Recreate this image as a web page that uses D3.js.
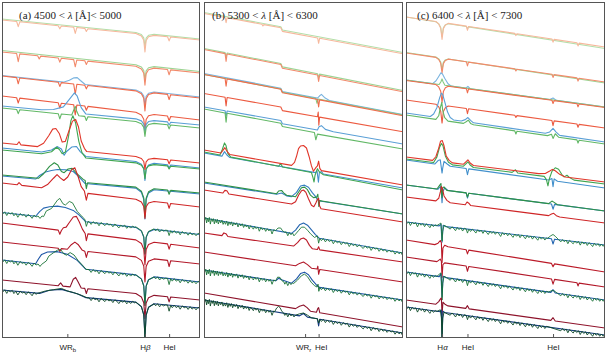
<!DOCTYPE html>
<html><head><meta charset="utf-8">
<script src="https://cdn.jsdelivr.net/npm/d3@7"></script>
<style>body{margin:0;background:#fff}svg{display:block}text{white-space:pre}</style>
</head><body>
<svg id="c" width="607" height="355"></svg>
<script>
// ---------------- DATA ----------------
const domA = [4500, 5000], domB = [5300, 6300], domC = [6400, 7300];
const ticksA = [4665, 4861, 4922], ticksB = [5808, 5876], ticksC = [6563, 6678, 7065];
const tickLabelsA = [[["WR",0],["b",2]], [["H",0],["β",1]], [["HeI",0]]];
const tickLabelsB = [[["WR",0],["r",2]], [["HeI",0]]];
const tickLabelsC = [[["H",0],["α",1]], [["HeI",0]], [["HeI",0]]];
const titleA = [["(a) 4500 < ",0],["λ",1],[" [Å]< 5000",0]];
const titleB = [["(b) 5300 < ",0],["λ",1],[" [Å] < 6300",0]];
const titleC = [["(c) 6400 < ",0],["λ",1],[" [Å] < 7300",0]];

// spectrum: [row, kind, continuum flux at left edge, at right edge, [[lambda, deviation],...], noisy]
const specA = [
[1,'g',32.1,30.1,[[4838,0],[4852,-0.15],[4858,-0.45],[4861,-1.3],[4864,-0.45],[4870,-0.15],[4884,0]],0],
[1,'r',32.0,30.0,[[4537,0],[4541,-0.5],[4545,0],[4642,0],[4646,-0.3],[4650,0],[4681,0],[4685,-0.6],[4689,0],[4709,0],[4713,-0.3],[4717,0],[4838,0],[4852,-0.2],[4858,-0.6],[4861,-1.75],[4864,-0.6],[4870,-0.2],[4884,0],[4918,0],[4922,-0.4],[4926,0]],0],
[2,'g',28.95,26.85,[[4838,0],[4852,-0.17],[4858,-0.5],[4861,-1.4],[4864,-0.5],[4870,-0.17],[4884,0]],0],
[2,'r',28.8,26.7,[[4537,0],[4541,-0.8],[4545,0],[4590,0],[4594,-0.3],[4598,0],[4642,0],[4646,-0.4],[4650,0],[4681,0],[4685,-0.7],[4689,0],[4709,0],[4713,-0.35],[4717,0],[4838,0],[4852,-0.22],[4858,-0.63],[4861,-1.8],[4864,-0.63],[4870,-0.22],[4884,0],[4918,0],[4922,-0.5],[4926,0]],0],
[3,'b',26.45,24.3,[[4655,0],[4670,0.25],[4682,0.55],[4690,0.6],[4698,0.35],[4710,0],[4838,0],[4852,-0.18],[4858,-0.52],[4861,-1.5],[4864,-0.52],[4870,-0.18],[4884,0]],0],
[3,'r',26.4,24.2,[[4537,0],[4541,-0.6],[4545,0],[4642,0],[4646,-0.4],[4650,0],[4681,0],[4685,-1.0],[4689,0],[4709,0],[4713,-0.35],[4717,0],[4838,0],[4852,-0.23],[4858,-0.66],[4861,-1.9],[4864,-0.66],[4870,-0.23],[4884,0],[4918,0],[4922,-0.5],[4926,0]],0],
[4,'r',24.4,22.0,[[4537,0],[4541,-0.5],[4545,0],[4642,0],[4646,-0.5],[4650,0],[4681,0],[4685,-1.0],[4689,0],[4709,0],[4713,-0.4],[4717,0],[4838,0],[4852,-0.2],[4858,-0.6],[4861,-1.7],[4864,-0.6],[4870,-0.2],[4884,0],[4918,0],[4922,-0.45],[4926,0]],0],
[5,'g',23.2,21.2,[[4537,0],[4541,-0.4],[4545,0],[4642,0],[4646,-0.5],[4650,0],[4676,0],[4681,0.5],[4685,0.9],[4689,0.4],[4694,0],[4709,0],[4713,-0.4],[4717,0],[4838,0],[4852,-0.17],[4858,-0.5],[4861,-1.4],[4864,-0.5],[4870,-0.17],[4884,0],[4918,0],[4922,-0.4],[4926,0]],0],
[5,'b',23.4,21.5,[[4600,0],[4630,0.15],[4655,0.5],[4670,1.3],[4683,2.0],[4690,1.7],[4700,0.6],[4712,0],[4838,0],[4852,-0.15],[4858,-0.45],[4861,-1.3],[4864,-0.45],[4870,-0.15],[4884,0],[4918,0],[4922,-0.3],[4926,0]],0],
[6,'g',19.0,17.1,[[4600,0],[4625,0.3],[4638,0.8],[4645,0.6],[4652,0.2],[4660,0.4],[4668,2.0],[4674,3.6],[4679,4.1],[4686,3.4],[4694,1.6],[4702,0.5],[4712,0],[4838,0],[4852,-0.18],[4858,-0.52],[4861,-1.5],[4864,-0.52],[4870,-0.18],[4884,0],[4918,0],[4922,-0.3],[4926,0]],0],
[6,'b',19.2,17.2,[[4600,0],[4625,0.3],[4640,0.7],[4650,0.5],[4657,-0.1],[4663,0.3],[4676,0.8],[4688,0.9],[4698,0.4],[4712,0],[4838,0],[4852,-0.22],[4858,-0.63],[4861,-1.8],[4864,-0.63],[4870,-0.22],[4884,0],[4918,0],[4922,-0.3],[4926,0]],0],
[6,'r',19.7,17.7,[[4538,0],[4543,0.3],[4548,0],[4590,0],[4605,0.4],[4618,1.2],[4628,1.9],[4636,2.0],[4645,1.5],[4652,0.7],[4660,0.8],[4670,2.0],[4678,2.9],[4686,3.1],[4693,2.4],[4700,1.0],[4708,0.3],[4714,0],[4838,0],[4852,-0.14],[4858,-0.42],[4861,-1.2],[4864,-0.42],[4870,-0.14],[4884,0],[4918,0],[4922,-0.4],[4926,0]],0],
[7,'g',16.5,14.7,[[4592,0],[4605,0.5],[4620,1.3],[4632,1.7],[4641,1.5],[4650,0.9],[4657,0.8],[4667,1.2],[4677,1.3],[4690,0.8],[4705,0.3],[4710,0.2],[4713,-0.6],[4716,0],[4838,0],[4852,-0.35],[4858,-1.0],[4861,-2.9],[4864,-1.0],[4870,-0.35],[4884,0],[4918,0],[4922,-0.4],[4926,0]],0],
[7,'b',16.4,14.6,[[4585,0],[4595,0.4],[4610,0.8],[4625,1.0],[4640,1.15],[4660,1.2],[4680,1.1],[4695,0.6],[4710,0],[4838,0],[4852,-0.36],[4858,-1.05],[4861,-3.0],[4864,-1.05],[4870,-0.36],[4884,0]],0],
[8,'r',15.7,13.3,[[4538,0],[4543,0.25],[4550,0],[4600,0],[4615,0.4],[4630,1.1],[4639,1.5],[4648,1.2],[4656,1.0],[4666,1.4],[4676,2.2],[4684,2.4],[4692,1.6],[4700,0.6],[4708,0.2],[4713,-0.7],[4717,0],[4838,0],[4852,-0.22],[4858,-0.63],[4861,-1.8],[4864,-0.63],[4870,-0.22],[4884,0],[4918,0],[4922,-0.5],[4926,0]],0],
[9,'b',12.75,10.55,[[4585,0],[4595,0.5],[4605,0.9],[4620,1.1],[4640,1.25],[4660,1.2],[4680,1.0],[4695,0.6],[4712,0],[4838,0],[4852,-0.31],[4858,-0.9],[4861,-2.6],[4864,-0.9],[4870,-0.31],[4884,0]],0],
[9,'g',12.8,10.6,[[4605,0],[4612,0.6],[4625,0.9],[4640,1.8],[4646,2.0],[4654,1.5],[4660,1.4],[4670,1.8],[4678,1.7],[4690,0.9],[4703,0.4],[4709,0.2],[4713,-0.5],[4717,0],[4838,0],[4852,-0.31],[4858,-0.9],[4861,-2.6],[4864,-0.9],[4870,-0.31],[4884,0],[4918,0],[4922,-0.5],[4926,0]],1],
[10,'r',11.7,9.2,[[4642,0],[4646,-0.4],[4650,0],[4655,0.3],[4662,0.4],[4670,0.9],[4680,1.5],[4688,1.6],[4695,1.1],[4703,0.4],[4710,0],[4713,-0.7],[4717,0],[4838,0],[4852,-0.29],[4858,-0.84],[4861,-2.4],[4864,-0.84],[4870,-0.29],[4884,0],[4918,0],[4922,-0.5],[4926,0]],0],
[11,'r',9.8,7.6,[[4642,0],[4646,-0.3],[4650,0],[4665,0],[4675,0.5],[4684,0.8],[4692,0.6],[4702,0.1],[4709,0],[4713,-0.6],[4717,0],[4838,0],[4852,-0.29],[4858,-0.84],[4861,-2.4],[4864,-0.84],[4870,-0.29],[4884,0],[4918,0],[4922,-0.6],[4926,0]],0],
[12,'b',8.0,5.8,[[4585,0],[4592,0.5],[4600,1.0],[4615,1.3],[4640,1.45],[4665,1.3],[4690,0.8],[4712,0],[4838,0],[4852,-0.34],[4858,-0.98],[4861,-2.8],[4864,-0.98],[4870,-0.34],[4884,0]],0],
[12,'g',8.0,5.8,[[4600,0],[4612,0.4],[4618,0.9],[4630,1.3],[4640,1.6],[4648,1.7],[4656,1.3],[4663,1.2],[4672,1.5],[4682,1.3],[4692,0.8],[4705,0.3],[4712,0],[4838,0],[4852,-0.36],[4858,-1.05],[4861,-3.0],[4864,-1.05],[4870,-0.36],[4884,0],[4918,0],[4922,-0.6],[4926,0]],1],
[13,'r',6.0,4.0,[[4642,0],[4648,0.3],[4654,0],[4672,0],[4680,0.8],[4686,1.0],[4692,0.6],[4700,0],[4709,0],[4713,-0.5],[4717,0],[4838,0],[4852,-0.29],[4858,-0.84],[4861,-2.4],[4864,-0.84],[4870,-0.29],[4884,0],[4918,0],[4922,-0.5],[4926,0]],0],
[14,'b',5.0,3.2,[[4595,0],[4620,0.4],[4650,0.6],[4690,0.3],[4712,0],[4838,0],[4852,-0.4],[4858,-1.2],[4861,-3.4],[4864,-1.2],[4870,-0.4],[4884,0]],0],
[14,'g',5.0,3.2,[[4590,0],[4610,0.3],[4630,0.5],[4650,0.7],[4665,0.5],[4680,0.4],[4700,0.2],[4715,0],[4838,0],[4852,-0.4],[4858,-1.2],[4861,-3.4],[4864,-1.2],[4870,-0.4],[4884,0],[4918,0],[4922,-0.6],[4926,0]],1]
];

const specB = [
[1,'g',32.6,28.9,[[5300,0.15],[5686,0.15],[5694,-0.15],[6300,-0.15]],0],
[1,'r',32.5,28.8,[[5300,0.15],[5406,0.15],[5411,-0.35],[5416,0.15],[5591,0.15],[5596,0],[5601,0.15],[5686,0.15],[5694,-0.18],[5871,-0.18],[5876,-0.7],[5881,-0.18],[6300,-0.18]],0],
[2,'g',29.0,25.1,[[5300,0.15],[5406,0.15],[5411,-0.3],[5416,0.15],[5686,0.15],[5694,-0.15],[5871,-0.15],[5876,-0.5],[5881,-0.15],[6300,-0.15]],0],
[2,'r',28.9,25.0,[[5300,0.15],[5406,0.15],[5411,-0.6],[5416,0.15],[5686,0.15],[5694,-0.18],[5871,-0.18],[5876,-0.8],[5881,-0.18],[6300,-0.18]],0],
[3,'b',26.5,22.7,[[5300,0.15],[5686,0.15],[5694,-0.15],[5870,-0.15],[5880,0.1],[5890,0.3],[5905,0.05],[5930,-0.15],[6300,-0.15]],0],
[3,'g',26.4,22.65,[[5300,0.15],[5686,0.15],[5694,-0.15],[5862,-0.15],[5868,-0.6],[5874,-0.15],[6300,-0.15]],0],
[3,'r',26.4,22.6,[[5300,0.15],[5406,0.15],[5411,-0.6],[5416,0.15],[5686,0.15],[5694,-0.18],[5871,-0.18],[5876,-0.9],[5881,-0.18],[6300,-0.18]],0],
[4,'r',24.5,21.0,[[5300,0.15],[5406,0.15],[5411,-0.7],[5416,0.15],[5686,0.15],[5694,-0.18],[5870,-0.18],[5874,0.3],[5877,-1.0],[5881,-0.18],[6300,-0.18]],0],
[5,'b',23.2,19.7,[[5300,0.1],[5406,0.1],[5411,-0.4],[5416,0.1],[5686,0.1],[5694,-0.2],[5870,-0.2],[5878,0.15],[5890,0.3],[5910,0],[5950,-0.1],[6300,-0.1]],0],
[5,'g',23.0,19.3,[[5300,0.1],[5406,0.1],[5411,-0.8],[5416,0.1],[5686,0.1],[5694,-0.2],[5855,-0.2],[5862,-0.9],[5870,-0.3],[6300,-0.2]],0],
[6,'b',18.7,15.2,[[5390,0],[5403,0.5],[5415,0.2],[5430,0],[5860,0],[5868,0.2],[5875,-0.9],[5880,0.1],[5890,0.2],[5900,0]],0],
[6,'g',18.8,15.0,[[5380,0],[5392,0.6],[5403,1.3],[5410,1.1],[5420,0.3],[5435,0],[5675,0],[5685,0.3],[5695,0],[5840,0],[5848,-0.5],[5853,-0.9],[5858,-0.2],[5870,0.5],[5880,0.2],[5890,0.1],[5900,0]],0],
[6,'r',19.0,15.5,[[5385,0],[5395,0.3],[5405,0.6],[5415,0.3],[5430,0],[5740,0],[5755,0.35],[5765,1.0],[5775,1.8],[5785,2.1],[5800,2.2],[5815,2.0],[5828,1.2],[5840,0.3],[5850,-0.2],[5862,0.2],[5870,0.4],[5876,0.9],[5882,0.2],[5890,0]],0],
[7,'b',15.7,12.6,[[5665,0],[5690,0.2],[5715,0],[5740,0],[5765,0.5],[5785,1.2],[5805,1.35],[5825,1.2],[5845,0.7],[5860,0.4],[5870,0.1],[5890,0]],0],
[7,'g',15.8,12.6,[[5665,0],[5675,0.3],[5690,0.4],[5700,0.2],[5715,0],[5760,0],[5775,0.5],[5790,1.0],[5805,1.1],[5820,0.9],[5835,0.4],[5850,0.2],[5866,0.3],[5872,0.6],[5877,-0.6],[5882,0],[5900,0]],0],
[8,'r',15.0,11.8,[[5395,0],[5405,0.3],[5415,0.3],[5425,0],[5740,0],[5760,0.3],[5775,1.0],[5790,1.5],[5800,1.6],[5812,1.4],[5825,0.8],[5840,0.2],[5852,0.1],[5862,0.5],[5870,0.9],[5876,1.0],[5880,0.3],[5888,0]],0],
[9,'b',12.2,8.7,[[5740,0],[5760,0.4],[5780,1.0],[5800,1.25],[5820,1.1],[5840,0.7],[5860,0.3],[5880,0]],0],
[9,'g',12.2,8.7,[[5660,0],[5672,0.3],[5685,0.35],[5695,0.1],[5705,0],[5760,0],[5775,0.4],[5790,0.8],[5805,0.85],[5820,0.6],[5835,0.3],[5855,0],[5870,0.2],[5876,-0.5],[5882,0]],1],
[10,'r',10.7,7.8,[[5390,0],[5400,0.3],[5410,0.25],[5420,0],[5750,0],[5770,0.4],[5785,0.8],[5800,0.95],[5815,0.8],[5830,0.3],[5845,0],[5870,0],[5876,0.3],[5882,0]],0],
[11,'r',8.8,5.8,[[5760,0],[5780,0.3],[5800,0.5],[5820,0.3],[5840,0],[5868,0],[5872,0.3],[5876,-0.5],[5882,0]],0],
[12,'b',7.0,4.0,[[5660,0],[5675,0.3],[5690,0.2],[5740,0],[5765,0.5],[5785,1.1],[5805,1.3],[5825,1.1],[5845,0.6],[5865,0.2],[5880,0]],0],
[12,'g',7.0,4.0,[[5660,0],[5670,0.4],[5682,0.4],[5692,0.1],[5702,0],[5750,0],[5770,0.4],[5790,0.9],[5805,1.1],[5820,0.9],[5838,0.4],[5855,0.1],[5868,0],[5873,0.3],[5877,-0.4],[5882,0]],1],
[13,'r',4.7,1.3,[[5760,0],[5780,0.3],[5800,0.5],[5818,0.3],[5835,0],[5865,0],[5872,0.4],[5876,0.5],[5882,0]],0],
[14,'b',4.0,0.7,[[5780,0],[5800,0.3],[5820,0],[5870,0],[5876,-0.7],[5882,0]],0],
[14,'g',4.0,0.7,[[5655,0],[5665,0.4],[5675,0.6],[5682,0.5],[5690,0.2],[5700,0],[5760,0],[5780,0.2],[5800,0.35],[5820,0.2],[5840,0],[5870,0],[5876,-0.4],[5882,0]],1]
];

const specC = [
[1,'g',32.3,29.15,[[6535,0],[6548,-0.17],[6557,-0.5],[6563,-1.4],[6569,-0.5],[6578,-0.17],[6591,0],[6673,0],[6678,-0.2],[6683,0]],0],
[1,'r',32.3,29.3,[[6535,0],[6548,-0.2],[6557,-0.6],[6563,-1.7],[6569,-0.6],[6578,-0.2],[6591,0],[6673,0],[6678,-0.4],[6683,0],[6892,0],[6897,-0.2],[6902,0],[7060,0],[7065,-0.3],[7070,0],[7173,0],[7178,-0.3],[7183,0]],0],
[2,'g',28.75,25.7,[[6535,0],[6548,-0.14],[6557,-0.42],[6563,-1.2],[6569,-0.42],[6578,-0.14],[6591,0]],0],
[2,'r',28.7,25.8,[[6535,0],[6548,-0.18],[6557,-0.52],[6563,-1.5],[6569,-0.52],[6578,-0.18],[6591,0],[6673,0],[6678,-0.4],[6683,0],[6892,0],[6897,-0.2],[6902,0],[7060,0],[7065,-0.3],[7070,0],[7173,0],[7178,-0.3],[7183,0]],0],
[3,'b',26.0,23.3,[[6520,0],[6535,0.3],[6548,0.8],[6558,1.2],[6565,1.1],[6575,0.7],[6590,0.2],[6605,0],[6670,0],[6680,0.2],[6690,0],[7050,0],[7065,0.2],[7080,0]],0],
[3,'g',26.0,23.3,[[6550,0],[6558,0.3],[6563,0.6],[6568,0.3],[6576,0]],0],
[3,'r',25.95,23.25,[[6535,0],[6548,-0.2],[6557,-0.6],[6563,-1.7],[6569,-0.6],[6578,-0.2],[6591,0],[6673,0],[6678,-0.4],[6683,0],[7060,0],[7065,-0.3],[7070,0],[7173,0],[7178,-0.3],[7183,0]],0],
[4,'r',24.0,21.2,[[6535,0],[6548,-0.22],[6557,-0.63],[6563,-1.8],[6569,-0.63],[6578,-0.22],[6591,0],[6673,0],[6678,-0.5],[6683,0],[6892,0],[6897,-0.2],[6902,0],[7060,0],[7065,-0.5],[7070,0],[7173,0],[7178,-0.3],[7183,0]],0],
[5,'b',22.7,19.8,[[6510,0],[6525,0.3],[6540,1.0],[6552,2.0],[6560,2.5],[6566,2.4],[6575,1.7],[6588,0.7],[6600,0.2],[6615,0],[6650,0],[6668,0.2],[6680,0.45],[6692,0.2],[6705,0],[7030,0],[7050,0.2],[7065,0.6],[7078,0.3],[7095,0]],0],
[5,'g',22.5,19.6,[[6535,0],[6548,0.4],[6556,1.3],[6562,1.8],[6566,1.0],[6575,0.3],[6590,0],[6660,0],[6672,0.2],[6682,0.4],[6692,0.1],[6705,0],[6892,0],[6897,-0.3],[6902,0],[7040,0],[7058,0.2],[7065,-0.2],[7075,0.3],[7090,0],[7173,0],[7178,-0.3],[7183,0]],0],
[6,'b',18.0,15.2,[[6530,0],[6545,0.4],[6555,0.5],[6560,-0.3],[6563,-0.8],[6566,-0.3],[6572,0.4],[6585,0.2],[6600,0],[6672,0],[6678,-0.6],[6684,0],[7045,0],[7060,0.2],[7065,-0.6],[7070,0.2],[7085,0]],0],
[6,'g',18.1,15.6,[[6525,0],[6540,0.6],[6552,1.6],[6560,2.0],[6567,1.8],[6578,0.8],[6592,0.2],[6610,0],[6660,0],[6672,0.3],[6680,0.5],[6690,0.2],[6705,0],[6880,0],[6895,0.3],[6905,0],[7025,0],[7035,-0.3],[7042,-0.9],[7048,-0.2],[7060,0.6],[7075,1.0],[7090,0.9],[7105,0.4],[7115,0.2],[7128,0.4],[7140,0.2],[7160,0]],0],
[6,'r',18.3,15.8,[[6520,0],[6535,0.4],[6548,1.3],[6556,2.0],[6564,2.1],[6572,1.6],[6582,0.6],[6595,0.2],[6610,0],[6660,0],[6672,0.3],[6680,0.5],[6690,0.2],[6705,0],[7000,0],[7030,0.1],[7050,0.4],[7062,0.6],[7075,0.5],[7095,0.2],[7120,0]],0],
[7,'b',15.5,12.9,[[6545,0],[6555,0.3],[6560,-0.2],[6563,-1.3],[6566,-0.2],[6575,0.2],[6590,0],[6672,0],[6678,-0.5],[6684,0],[7058,0],[7065,-0.5],[7072,0]],0],
[7,'g',15.5,12.9,[[6540,0],[6552,0.4],[6558,0.6],[6561,-0.3],[6563,-0.8],[6566,0.2],[6572,0.3],[6585,0],[6672,0],[6678,-0.4],[6684,0],[7045,0],[7060,0.3],[7070,0.2],[7085,0]],0],
[8,'r',14.3,11.7,[[6535,0],[6548,0.3],[6555,0.9],[6560,1.5],[6565,1.3],[6572,0.6],[6585,0.2],[6600,0],[6668,0],[6676,0.3],[6684,0.2],[6692,0],[7045,0],[7058,0.2],[7068,0.3],[7080,0.1],[7095,0]],0],
[9,'b',11.8,9.5,[[6550,0],[6558,0.2],[6563,-1.6],[6568,0.1],[6580,0],[7058,0],[7065,-0.5],[7072,0]],0],
[9,'g',11.8,9.5,[[6540,0],[6552,0.2],[6558,0.3],[6561,-0.5],[6563,-1.5],[6566,-0.5],[6572,0.1],[6585,0],[6672,0],[6678,-0.4],[6684,0],[7040,0],[7055,0.3],[7065,0.45],[7075,0.3],[7090,0]],1],
[10,'r',10.0,6.8,[[6530,0],[6545,0.2],[6555,0.5],[6560,0.3],[6563,-1.7],[6567,-0.2],[6575,0.1],[6590,0],[6672,0],[6678,-0.4],[6684,0],[7058,0],[7065,-0.3],[7072,0]],0],
[11,'r',8.3,5.3,[[6540,0],[6555,0.3],[6560,0.1],[6563,-1.5],[6567,-0.2],[6575,0],[6672,0],[6678,-0.5],[6684,0],[7058,0],[7065,-0.5],[7072,0],[7173,0],[7178,-0.3],[7183,0]],0],
[12,'b',6.8,4.0,[[6550,0],[6558,0.3],[6563,-2.0],[6568,0.1],[6580,0],[7055,0],[7065,0.3],[7075,0]],0],
[12,'g',6.8,4.0,[[6540,0],[6553,0.3],[6558,0.4],[6561,-0.6],[6563,-2.3],[6566,-0.6],[6572,0.1],[6585,0],[6672,0],[6678,-0.5],[6684,0],[7045,0],[7060,0.2],[7070,0.2],[7085,0]],1],
[13,'r',4.0,1.2,[[6535,0],[6548,0.3],[6556,0.6],[6560,0.7],[6563,-1.0],[6567,0.3],[6578,0.1],[6590,0],[6670,0],[6678,0.3],[6686,0],[7055,0],[7065,0.3],[7075,0]],0],
[14,'b',3.3,0.5,[[6555,0],[6560,0.2],[6563,-2.7],[6567,0.1],[6575,0]],0],
[14,'g',3.3,0.5,[[6540,0],[6555,0.2],[6560,-0.6],[6563,-2.6],[6566,-0.6],[6572,0],[6672,0],[6678,-0.4],[6684,0]],1]
];

// noise read as jagged deviations of the noisy spectra
const noiseA = [[4503,-0.15],[4507,0.05],[4512,-0.3],[4516,0.0],[4521,-0.1],[4526,0.05],[4530,-0.25],[4535,0.0],[4540,-0.35],[4546,0.05],[4551,-0.12],[4556,0.0],[4561,-0.25],[4566,0.05],[4571,-0.08],[4576,-0.3],[4581,0.05],[4586,-0.12],[4591,0.0],[4596,-0.22],[4601,0.05],[4606,-0.18],[4720,0.0],[4725,-0.25],[4730,0.05],[4735,-0.12],[4740,0.0],[4745,-0.3],[4750,0.05],[4755,-0.08],[4760,-0.22],[4765,0.05],[4770,-0.12],[4775,0.0],[4780,-0.25],[4785,0.05],[4790,-0.08],[4795,-0.3],[4800,0.0],[4805,-0.12],[4810,0.05],[4815,-0.25],[4820,0.0],[4825,-0.18],[4830,0.05],[4835,-0.08],[4888,-0.18],[4893,0.05],[4898,-0.25],[4903,0.0],[4908,-0.12],[4913,0.0],[4930,-0.22],[4935,0.05],[4940,-0.18],[4945,0.0],[4950,-0.3],[4955,0.05],[4960,-0.12],[4965,0.0],[4970,-0.25],[4975,0.05],[4980,-0.18],[4985,0.0],[4990,-0.22],[4995,0.05]];
const noiseB = [[5304,-0.2],[5309,0.1],[5313,-0.45],[5318,0.05],[5322,-0.3],[5327,0.15],[5332,-0.5],[5337,0.05],[5342,-0.2],[5347,0.1],[5352,-0.4],[5357,0.05],[5362,-0.25],[5367,0.1],[5372,-0.35],[5378,0.05],[5384,-0.2],[5390,0.1],[5396,-0.3],[5402,0],[5408,-0.25],[5414,0.1],[5420,-0.35],[5426,0.05],[5432,-0.2],[5438,0.1],[5444,-0.3],[5450,0.05],[5457,-0.15],[5464,0.1],[5471,-0.3],[5478,0.05],[5485,-0.15],[5492,0.1],[5499,-0.25],[5506,0.05],[5513,-0.15],[5520,0.05],[5527,-0.3],[5534,0.05],[5541,-0.1],[5548,-0.25],[5555,0.05],[5562,-0.15],[5570,0.05],[5578,-0.35],[5586,0.05],[5594,-0.15],[5602,0.05],[5610,-0.25],[5618,0.05],[5626,-0.15],[5634,0.05],[5642,-0.4],[5650,0.05],[5706,-0.2],[5713,0.05],[5721,-0.3],[5729,0.05],[5737,-0.15],[5745,0.05],[5752,-0.2],[5890,-0.2],[5900,0.05],[5910,-0.25],[5920,0.05],[5930,-0.15],[5940,0.05],[5950,-0.3],[5960,0.05],[5970,-0.15],[5980,0.05],[5990,-0.25],[6000,0.05],[6010,-0.1],[6020,0.05],[6030,-0.3],[6040,0.05],[6050,-0.15],[6060,0.05],[6070,-0.2],[6080,0.05],[6090,-0.1],[6100,-0.25],[6110,0.05],[6120,-0.15],[6130,0.05],[6140,-0.3],[6150,0.05],[6160,-0.1],[6170,0.05],[6180,-0.25],[6190,0.05],[6200,-0.15],[6210,0.05],[6220,-0.2],[6230,0.05],[6240,-0.1],[6250,0.05],[6260,-0.25],[6270,0.05],[6280,-0.15],[6290,0.05],[6296,-0.2]];
const noiseC = [[6404,-0.15],[6412,0.05],[6420,-0.3],[6428,0.05],[6436,-0.1],[6444,0.05],[6452,-0.35],[6460,0.05],[6468,-0.15],[6476,0.05],[6484,-0.25],[6492,0.05],[6500,-0.1],[6508,-0.3],[6516,0.05],[6524,-0.15],[6532,0.05],[6600,-0.2],[6608,0.05],[6616,-0.1],[6624,-0.3],[6632,0.05],[6640,-0.15],[6648,0.05],[6656,-0.25],[6664,0.05],[6692,-0.2],[6700,0.05],[6708,-0.1],[6716,-0.3],[6724,0.05],[6732,-0.15],[6740,0.05],[6748,-0.25],[6756,0.05],[6764,-0.1],[6772,-0.3],[6780,0.05],[6788,-0.15],[6796,0.05],[6804,-0.2],[6812,0.05],[6820,-0.1],[6828,-0.35],[6836,0.05],[6844,-0.15],[6852,0.05],[6860,-0.2],[6868,0.05],[6876,-0.1],[6884,-0.3],[6892,0.05],[6900,-0.15],[6908,0.05],[6916,-0.25],[6924,0.05],[6932,-0.1],[6940,-0.3],[6948,0.05],[6956,-0.15],[6964,0.05],[6972,-0.25],[6980,0.05],[6988,-0.1],[6996,-0.3],[7004,0.05],[7012,-0.15],[7020,0.05],[7028,-0.2],[7036,0.05],[7100,-0.2],[7108,0.05],[7116,-0.15],[7124,0.05],[7132,-0.3],[7140,0.05],[7148,-0.1],[7156,-0.25],[7164,0.05],[7172,-0.15],[7180,0.05],[7188,-0.3],[7196,0.05],[7204,-0.15],[7212,0.05],[7220,-0.25],[7228,0.05],[7236,-0.1],[7244,-0.3],[7252,0.05],[7260,-0.15],[7268,0.05],[7276,-0.2],[7284,0.05],[7292,-0.15],[7298,0.05]];

// ---------------- STYLE ----------------
const rowColors = [
 {r:'#f6b89c', g:'#b3dfa9', b:'#a9cce9'},
 {r:'#f28a6b', g:'#9dd494', b:'#8fc0e4'},
 {r:'#f06c4d', g:'#85ca80', b:'#79b3df'},
 {r:'#ec5a40', g:'#70bf6e', b:'#66a8da'},
 {r:'#e84a35', g:'#62b866', b:'#5a9fd6'},
 {r:'#e1372a', g:'#3fa550', b:'#4290cc'},
 {r:'#d62c28', g:'#2e9146', b:'#347fc2'},
 {r:'#cf2526', g:'#25853f', b:'#2b72b9'},
 {r:'#c41d27', g:'#1f7b3a', b:'#2566b1'},
 {r:'#bb1a28', g:'#1b7236', b:'#1f5ca8'},
 {r:'#b21829', g:'#186a33', b:'#1c54a0'},
 {r:'#a3152a', g:'#167034', b:'#1d55a6'},
 {r:'#8e132b', g:'#10552c', b:'#16428a'},
 {r:'#7a0f28', g:'#0c4a27', b:'#13397c'}
];
const labelNudge = [[0, 0, 0], [-2, 2], [0, 0, 0]];

// ---------------- DRAW ----------------
const svg = d3.select('#c');
const yTop = 2, yBot = 338;
const y = d3.scaleLinear().domain([0.2, 33.8]).range([yBot, yTop]);

function build(s, dom, noise) {
  const [row, kind, L, R, dev, noisy] = s;
  let pts = dev.slice();
  if (pts[0][0] > dom[0]) pts.unshift([dom[0], 0]);
  if (pts[pts.length - 1][0] < dom[1]) pts.push([dom[1], 0]);
  if (noisy) {
    const extra = noise.filter(([l]) => {
      for (let i = 0; i < pts.length - 1; i++) {
        if (pts[i][0] <= l - 2 && pts[i + 1][0] >= l + 2) return pts[i][1] === 0 && pts[i + 1][1] === 0;
      }
      return false;
    });
    pts = pts.concat(extra).sort((a, b) => a[0] - b[0]);
  }
  const cont = l => L + (R - L) * (l - dom[0]) / (dom[1] - dom[0]);
  return pts.map(([l, d]) => [l, cont(l) + d]);
}

function addParts(sel, parts, subSize) {
  parts.forEach(([t, st]) => {
    const ts = sel.append('tspan').text(t);
    if (st === 1) ts.attr('font-style', 'italic');
    if (st === 2) ts.attr('dy', 2.5).attr('font-size', subSize);
  });
}

const panels = [
  {dom: domA, px: [2, 200], spec: specA, noise: noiseA, ticks: ticksA, labels: tickLabelsA, title: titleA, tx: 19},
  {dom: domB, px: [204, 403], spec: specB, noise: noiseB, ticks: ticksB, labels: tickLabelsB, title: titleB, tx: 212},
  {dom: domC, px: [406, 605], spec: specC, noise: noiseC, ticks: ticksC, labels: tickLabelsC, title: titleC, tx: 417}
];
const order = {b: 0, g: 1, r: 2};

panels.forEach((p, i) => {
  const x = d3.scaleLinear().domain(p.dom).range(p.px);
  const cid = 'clip' + i;
  svg.append('clipPath').attr('id', cid).append('rect')
    .attr('x', p.px[0]).attr('y', yTop).attr('width', p.px[1] - p.px[0]).attr('height', yBot - yTop);
  const g = svg.append('g');
  const lines = g.append('g').attr('clip-path', `url(#${cid})`);
  const line = d3.line().x(d => x(d[0])).y(d => y(d[1]));
  const specs = p.spec.slice().sort((a, b) => a[0] - b[0] || order[a[1]] - order[b[1]]);
  lines.selectAll('path').data(specs).join('path')
    .attr('d', s => line(build(s, p.dom, p.noise)))
    .attr('fill', 'none')
    .attr('stroke', s => rowColors[s[0] - 1][s[1]])
    .attr('stroke-width', s => s[5] ? 0.9 : 1.1)
    .attr('stroke-linejoin', 'round');

  // frame
  g.append('rect').attr('x', p.px[0] + 0.5).attr('y', yTop + 0.5)
    .attr('width', p.px[1] - p.px[0] - 1).attr('height', yBot - yTop - 1)
    .attr('fill', 'none').attr('stroke', '#555').attr('stroke-width', 1);

  // axis
  const ax = g.append('g').attr('transform', `translate(0,${yBot})`)
    .call(d3.axisBottom(x).tickValues(p.ticks).tickSizeInner(-4).tickSizeOuter(0).tickPadding(6).tickFormat(''));
  ax.select('.domain').remove();
  ax.selectAll('.tick line').attr('stroke', '#555');
  ax.selectAll('.tick text').each(function(d, k) {
    const t = d3.select(this).style('font-family', "'Liberation Sans', Arial, sans-serif")
      .attr('font-size', 8).attr('fill', '#222').attr('dx', labelNudge[i][k]);
    addParts(t, p.labels[k], 6);
  });

  // title
  const tt = g.append('text').attr('x', p.tx).attr('y', 19)
    .style('font-family', "'Liberation Serif', 'Times New Roman', serif").attr('font-size', 11).attr('fill', '#222');
  addParts(tt, p.title, 8);
});
</script>
</body></html>
